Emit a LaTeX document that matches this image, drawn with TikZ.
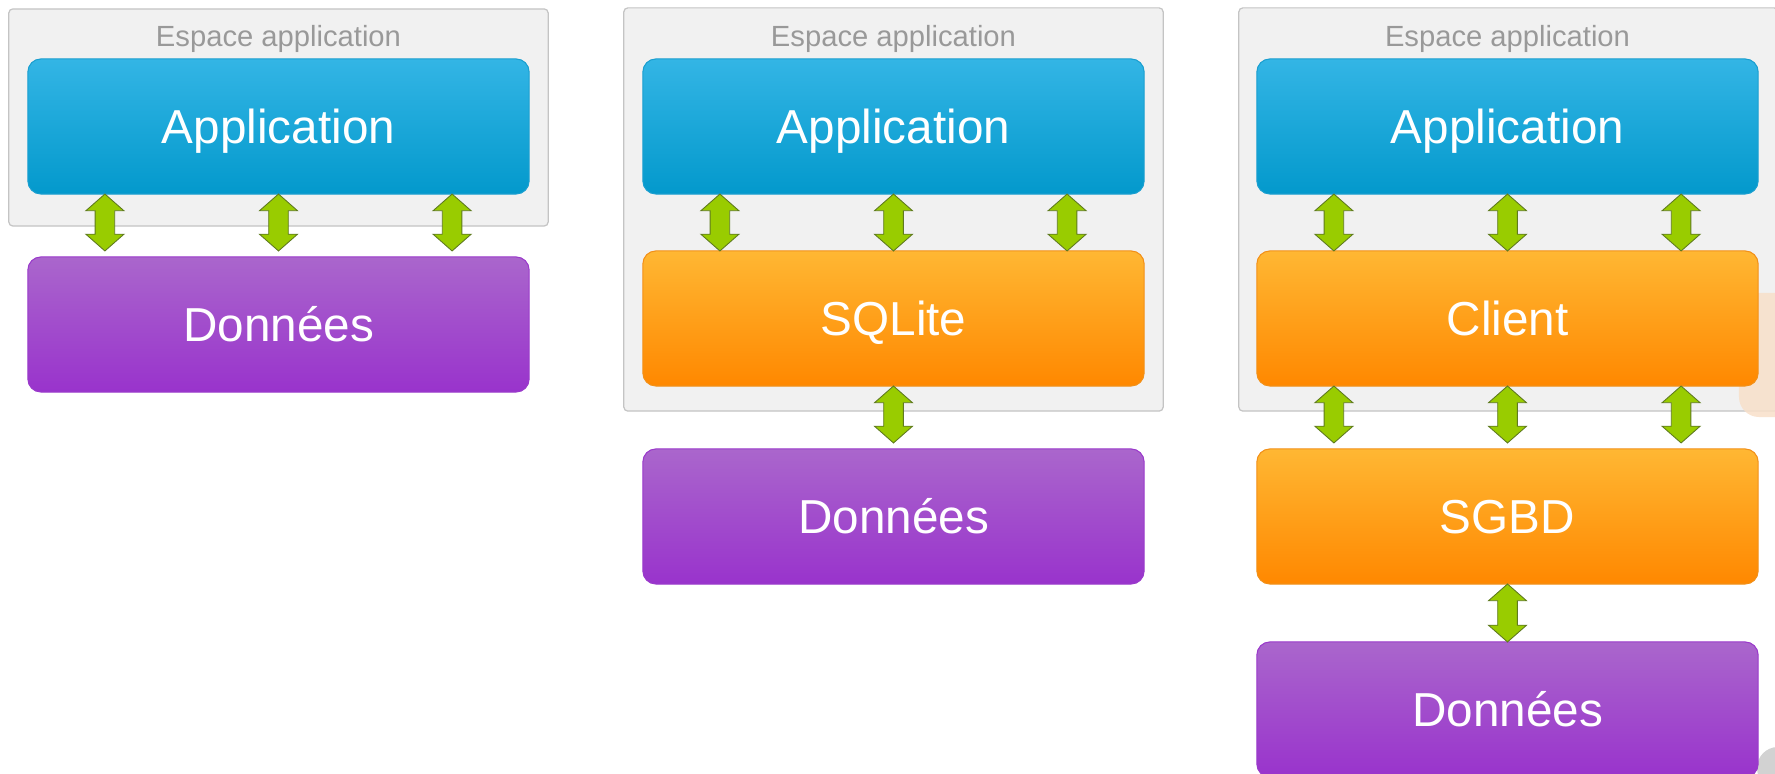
\documentclass[tikz,border=0pt]{standalone}
\usepackage{fontspec}
\setmainfont{Liberation Sans}
\usetikzlibrary{calc}
\definecolor{blueT}{HTML}{33B5E5}
\definecolor{blueB}{HTML}{0399CC}
\definecolor{blueL}{HTML}{1A9FD0}
\definecolor{orT}{HTML}{FFB733}
\definecolor{orB}{HTML}{FF8800}
\definecolor{orL}{HTML}{F29018}
\definecolor{puT}{HTML}{AA66CC}
\definecolor{puB}{HTML}{9933CC}
\definecolor{puL}{HTML}{9A3ACB}
\definecolor{grnF}{HTML}{99CC00}
\definecolor{grnL}{HTML}{5F7A1F}
\definecolor{spaceF}{HTML}{F1F1F1}
\definecolor{spaceL}{HTML}{C4C4C4}
\definecolor{lblC}{HTML}{999999}
\definecolor{peach}{HTML}{F8E0CA}
\definecolor{dotG}{HTML}{D2D2D2}
\newcommand\hwA{0.19cm}
\newcommand\swA{0.098cm}
\newcommand\hhA{0.167cm}
% [gap]{upper node}{lower node}{fraction}
\newcommand\dblarrow[4][0cm]{%
  \path[garrow] let \p1=($(#2.south west)!#4!(#2.south east)$),
                    \p2=($(#3.north west)!#4!(#3.north east)$) in
  (\x1,\y1) -- (\x1+\hwA,\y1-\hhA) -- (\x1+\swA,\y1-\hhA) -- (\x1+\swA,\y2+#1+\hhA)
  -- (\x1+\hwA,\y2+#1+\hhA) -- (\x1,\y2+#1) -- (\x1-\hwA,\y2+#1+\hhA)
  -- (\x1-\swA,\y2+#1+\hhA) -- (\x1-\swA,\y1-\hhA) -- (\x1-\hwA,\y1-\hhA) -- cycle;}
\tikzset{
  box/.style={rounded corners=0.13cm, minimum width=5.01cm, minimum height=1.35cm,
    inner sep=0pt, outer sep=0pt, line width=0.3pt, text=white,
    font=\fontsize{13.55}{16}\selectfont, text height=0.437cm, text depth=0.095cm},
  appbox/.style={box, draw=blueL, top color=blueT, bottom color=blueB},
  midbox/.style={box, draw=orL, top color=orT, bottom color=orB},
  databox/.style={box, draw=puL, top color=puT, bottom color=puB},
  spacebox/.style={draw=spaceL, fill=spaceF, rounded corners=0.04cm, line width=0.35pt,
    minimum width=5.39cm, inner sep=0pt, outer sep=0pt},
  spacelabel/.style={text=lblC, font=\fontsize{8.3}{10}\selectfont, anchor=base, inner sep=0pt},
  garrow/.style={fill=grnF, draw=grnL, line width=0.25pt, line join=miter}
}
\begin{document}
\begin{tikzpicture}[x=0.01cm, y=-0.01cm]
\useasboundingbox (0,0) rectangle (1775,774);
\clip (0,0) rectangle (1775,774);
\fill[white] (0,0) rectangle (1775,774);

% application spaces
\node[spacebox, minimum height=2.17cm] (s1) at (278.5,117.5) {};
\node[spacebox, minimum height=4.03cm] (s2) at (893.5,209.5) {};
\node[spacebox, minimum height=4.03cm] (s3) at (1508.5,209.5) {};
\node[spacelabel] (l1) at (278.5,47) {Espace application};
\node[spacelabel] (l2) at (893.5,46.5) {Espace application};
\node[spacelabel] (l3) at (1507.5,46.5) {Espace application};

% partial shapes at the right edge
\node[fill=peach, opacity=0.85, rounded corners=0.2cm, minimum width=0.8cm,
  minimum height=1.24cm, inner sep=0pt] (pe) at (1779,355) {};
\node[fill=dotG, circle, minimum size=0.42cm, inner sep=0pt] (gd) at (1778,768) {};

% panel 1
\node[appbox]  (a1) at (278.5,126.5) {Application};
\node[databox] (d1) at (278.5,324.5) {Données};
% panel 2
\node[appbox]  (a2) at (893.5,126.5) {Application};
\node[midbox]  (q2) at (893.5,318.5) {SQLite};
\node[databox] (d2) at (893.5,516.5) {Données};
% panel 3
\node[appbox]  (a3) at (1507.5,126.5) {Application};
\node[midbox]  (c3) at (1507.5,318.5) {Client};
\node[midbox]  (g3) at (1507.5,516.5) {SGBD};
\node[databox] (d3) at (1507.5,709.5) {Données};

% arrows
\foreach \f in {0.1537,0.5,0.8463}{
  \dblarrow[0.06cm]{a1}{d1}{\f}
  \dblarrow{a2}{q2}{\f}
  \dblarrow{a3}{c3}{\f}
  \dblarrow[0.06cm]{c3}{g3}{\f}
}
\dblarrow[0.06cm]{q2}{d2}{0.5}
\dblarrow{g3}{d3}{0.5}
\end{tikzpicture}
\end{document}
